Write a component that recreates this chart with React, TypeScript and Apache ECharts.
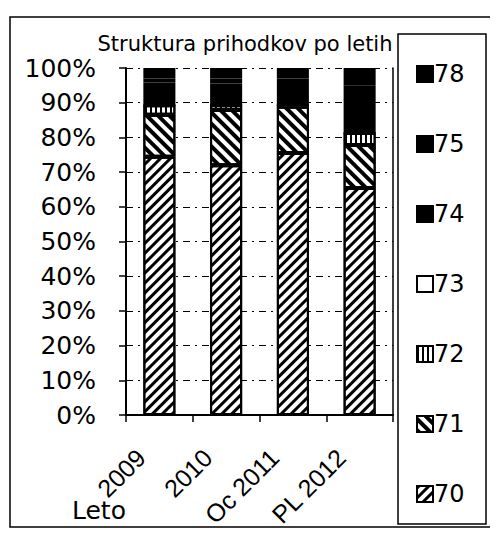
import React, { useEffect, useRef } from "react";
import * as echarts from "echarts";

const categories = ["2009", "2010", "Oc 2011", "PL 2012"];
const s70 = [74.4, 72.0, 75.5, 65.4];
const s71 = [12.1, 15.9, 13.3, 12.4];
const s72 = [2.8, 1.4, 0.6, 3.5];
const s73 = [0, 0, 0, 0];
const s74 = [6.5, 6.2, 6.0, 11.5];
const s75 = [1.2, 1.5, 1.6, 2.2];
const s78 = [3.0, 3.0, 3.0, 5.0];
const legendOrder = ["78", "75", "74", "73", "72", "71", "70"];

const FONT = "DejaVu Sans";

export default function App() {
  const ref = useRef<HTMLDivElement>(null);
  useEffect(() => {
    if (!ref.current) return;
    const chart = echarts.init(ref.current, null, { renderer: "svg" });
    const base = (name: string, data: number[], itemStyle: any) => ({
      name,
      type: "bar",
      stack: "total",
      data,
      barWidth: "48%",
      itemStyle: { borderColor: "#000", borderWidth: 2, ...itemStyle },
    });
    chart.setOption({
      animation: false,
      backgroundColor: "#fff",
      title: {
        text: "Struktura prihodkov po letih",
        left: 240,
        textAlign: "center",
        top: 28,
        textStyle: { fontFamily: FONT, fontSize: 21, fontWeight: "normal", color: "#000" },
      },
      graphic: [
        { type: "rect", shape: { x: 10, y: 17, width: 481, height: 510 }, style: { fill: "none", stroke: "#000", lineWidth: 1.5 } },
        { type: "rect", shape: { x: 398, y: 34, width: 88, height: 490 }, style: { fill: "none", stroke: "#000", lineWidth: 1.5 } },
        { type: "text", left: 72, top: 498, style: { text: "Leto", fontFamily: FONT, fontSize: 25, fill: "#000" } },
      ],
      legend: {
        orient: "vertical",
        left: 411,
        top: 57,
        itemGap: 46,
        itemWidth: 16,
        itemHeight: 16,
        icon: "rect",
        data: legendOrder,
        textStyle: { fontFamily: FONT, fontSize: 24, color: "#000", padding: [0, 0, 0, -4] },
      },
      grid: { left: 126, right: 105, top: 68, bottom: 123, outerBoundsMode: "none", containLabel: false },
      xAxis: [
        {
          type: "category",
          data: categories,
          axisLine: { lineStyle: { color: "#000", width: 2 } },
          axisTick: { show: true, length: 7, lineStyle: { color: "#000", width: 1.5 } },
          axisLabel: { rotate: 45, margin: 20, color: "#000", fontFamily: "Liberation Sans", fontSize: 25, padding: [0, 26, 0, 0] },
        },
        {
          type: "category",
          data: categories,
          position: "top",
          axisLine: { show: true, lineStyle: { color: "#000", width: 1.5 } },
          axisTick: { show: false },
          axisLabel: { show: false },
        },
      ],
      yAxis: [
        {
          type: "value",
          min: 0,
          max: 100,
          interval: 10,
          axisLine: { show: true, lineStyle: { color: "#000", width: 2 } },
          axisTick: { show: true, length: 7, lineStyle: { color: "#000", width: 1.5 } },
          axisLabel: { formatter: "{value}%", color: "#000", fontFamily: FONT, fontSize: 25, margin: 30 },
          splitLine: { show: true, lineStyle: { color: "#000", width: 1, type: [7, 5, 2, 5] } },
        },
        {
          type: "value",
          min: 0,
          max: 100,
          interval: 10,
          position: "right",
          axisLine: { show: true, lineStyle: { color: "#000", width: 1.5 } },
          axisTick: { show: false },
          axisLabel: { show: false },
          splitLine: { show: false },
        },
      ],
      series: [
        base("70", s70, {
          color: "#fff",
          decal: { symbol: "rect", symbolSize: 1, color: "#000", backgroundColor: "#fff", dashArrayX: [1, 0], dashArrayY: [3, 4], rotation: -Math.PI / 4 },
        }),
        base("71", s71, {
          color: "#fff",
          decal: { symbol: "rect", symbolSize: 1, color: "#000", backgroundColor: "#fff", dashArrayX: [1, 0], dashArrayY: [4, 4], rotation: Math.PI / 4 },
        }),
        base("72", s72, {
          color: "#fff",
          decal: { symbol: "rect", symbolSize: 1, color: "#000", backgroundColor: "#fff", dashArrayX: [2, 3], dashArrayY: [1, 0], rotation: 0 },
        }),
        base("73", s73, { color: "#fff" }),
        base("74", s74, { color: "#000" }),
        base("75", s75, { color: "#000" }),
        base("78", s78, { color: "#000" }),
      ],
    });
    return () => chart.dispose();
  }, []);
  return <div ref={ref} style={{ width: 498, height: 538, margin: -8 }} />;
}
